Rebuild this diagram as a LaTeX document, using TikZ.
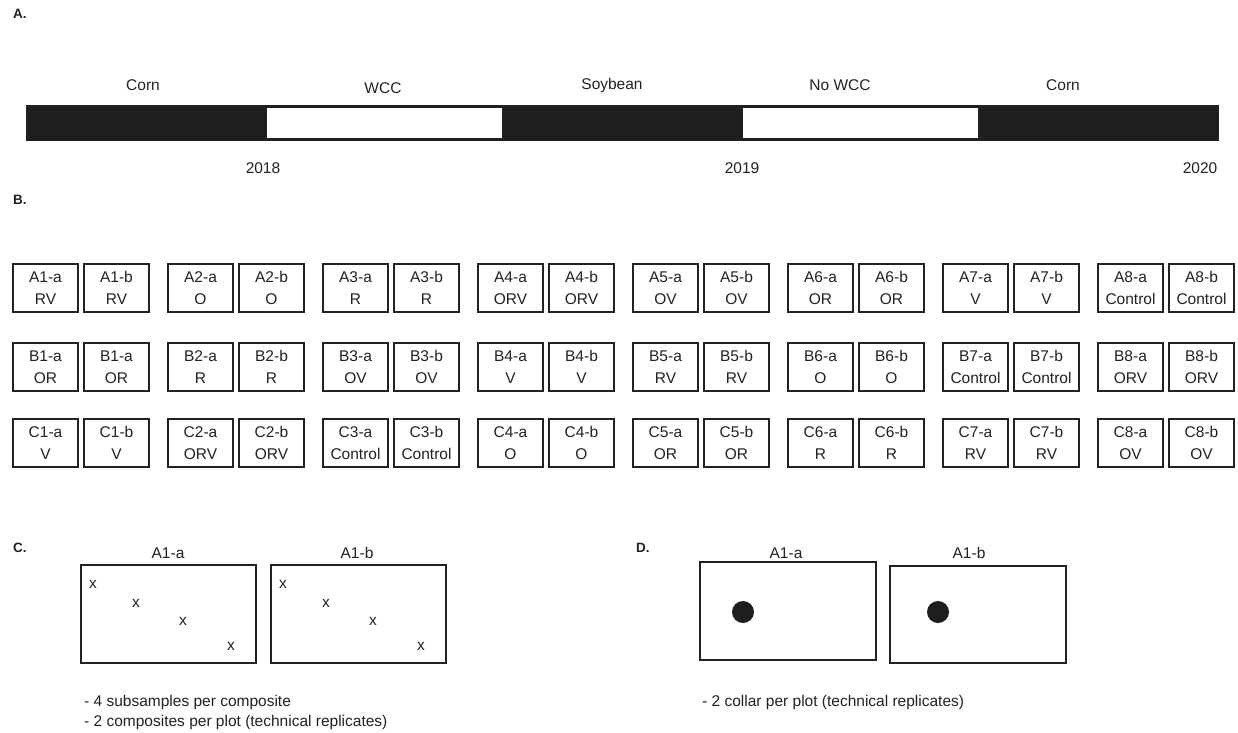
\documentclass[tikz,border=0pt]{standalone}
\usepackage{fontspec}
\setmainfont{Liberation Sans}
\definecolor{ink}{HTML}{222222}
\definecolor{barblack}{HTML}{1E1E1E}
\begin{document}
\begin{tikzpicture}[x=1pt,y=-1pt,
  txt/.style={inner sep=0pt,text=ink,font=\fontsize{15.5}{18}\selectfont},
  panel/.style={inner sep=0pt,text=ink,anchor=west,font=\fontsize{13.5}{15}\selectfont\bfseries},
  plot/.style={draw=ink,line width=1.8pt,minimum width=65pt,minimum height=48pt,inner sep=0pt,align=center,text=ink,font=\fontsize{15.5}{22}\selectfont},
  field/.style={draw=ink,line width=1.8pt,fill=white},
  note/.style={inner sep=0pt,text=ink,anchor=west,font=\fontsize{15.5}{18}\selectfont}]
\useasboundingbox[fill=white] (0,0) rectangle (1238,732);
% ---- A ----
\node[panel] (pA) at (13,14) {A.};
\fill[barblack] (26,105) rectangle (1218,140);
\draw[ink,line width=0.8pt] (26,105) rectangle (1218,140);
\draw[ink,line width=1pt,fill=white] (266,107) rectangle (502,138);
\draw[ink,line width=1pt,fill=white] (742,107) rectangle (978,138);
\node[txt] (c1) at (143,85) {Corn};
\node[txt] (w1) at (383,88) {WCC};
\node[txt] (s1) at (612,85) {Soybean};
\node[txt] (w2) at (840,85) {No WCC};
\node[txt] (c2) at (1063,85) {Corn};
\node[txt] (y1) at (263,168) {2018};
\node[txt] (y2) at (742,168) {2019};
\node[txt] (y3) at (1200,168) {2020};
% ---- B ----
\node[panel] (pB) at (13,200) {B.};
\foreach \k/\la/\lb/\t in {1/A1-a/A1-b/RV,2/A2-a/A2-b/O,3/A3-a/A3-b/R,4/A4-a/A4-b/ORV,5/A5-a/A5-b/OV,6/A6-a/A6-b/OR,7/A7-a/A7-b/V,8/A8-a/A8-b/Control}{
  \node[plot] (ra\k) at ({12+155*(\k-1)+33.5},288) {\la\\\t};
  \node[plot] (rb\k) at ({12+155*(\k-1)+104.5},288) {\lb\\\t};
}
\foreach \k/\la/\lb/\t in {1/B1-a/B1-a/OR,2/B2-a/B2-b/R,3/B3-a/B3-b/OV,4/B4-a/B4-b/V,5/B5-a/B5-b/RV,6/B6-a/B6-b/O,7/B7-a/B7-b/Control,8/B8-a/B8-b/ORV}{
  \node[plot] (sa\k) at ({12+155*(\k-1)+33.5},367) {\la\\\t};
  \node[plot] (sb\k) at ({12+155*(\k-1)+104.5},367) {\lb\\\t};
}
\foreach \k/\la/\lb/\t in {1/C1-a/C1-b/V,2/C2-a/C2-b/ORV,3/C3-a/C3-b/Control,4/C4-a/C4-b/O,5/C5-a/C5-b/OR,6/C6-a/C6-b/R,7/C7-a/C7-b/RV,8/C8-a/C8-b/OV}{
  \node[plot] (ta\k) at ({12+155*(\k-1)+33.5},443) {\la\\\t};
  \node[plot] (tb\k) at ({12+155*(\k-1)+104.5},443) {\lb\\\t};
}
% ---- C ----
\node[panel] (pC) at (13,548) {C.};
\draw[field] (81,565) rectangle (256,663);
\draw[field] (271,565) rectangle (446,663);
\node[txt] (ca) at (168,553) {A1-a};
\node[txt] (cb) at (357,553) {A1-b};
\foreach \dx/\n in {0/p,190/q}{
  \node[txt] (x1\n) at ({93+\dx},584) {x};
  \node[txt] (x2\n) at ({136+\dx},603) {x};
  \node[txt] (x3\n) at ({183+\dx},621) {x};
  \node[txt] (x4\n) at ({231+\dx},646) {x};
}
\node[note] (n1) at (84,702) {- 4 subsamples per composite};
\node[note] (n2) at (84,722) {- 2 composites per plot (technical replicates)};
% ---- D ----
\node[panel] (pD) at (636,548) {D.};
\draw[field] (700,562) rectangle (876,660);
\draw[field] (890,566) rectangle (1066,663);
\node[txt] (da) at (786,553) {A1-a};
\node[txt] (db) at (969,553) {A1-b};
\fill[barblack] (743,612) circle (11);
\fill[barblack] (938,612) circle (11);
\node[note] (n3) at (702,702) {- 2 collar per plot (technical replicates)};
\end{tikzpicture}
\end{document}
